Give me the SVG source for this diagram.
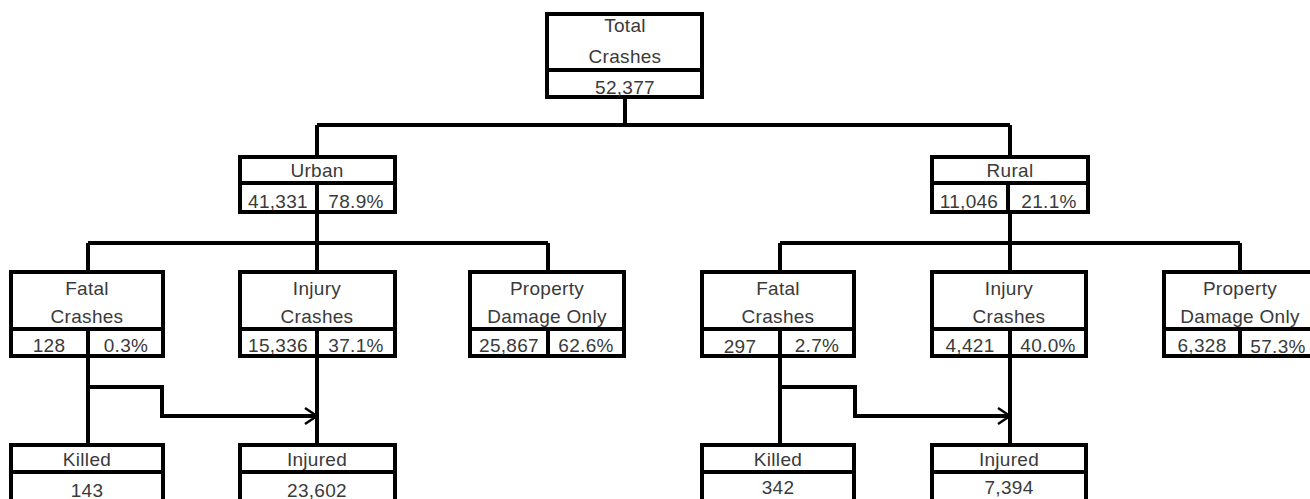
<svg xmlns="http://www.w3.org/2000/svg" width="1310" height="499" viewBox="0 0 1310 499">
<defs>
<style>
.box{fill:#fff;stroke:#000;stroke-width:4}
.ln{fill:none;stroke:#000;stroke-width:4}
.t{font-family:"Liberation Sans",Arial,sans-serif;font-size:19px;fill:#3a3a3a;text-anchor:middle;letter-spacing:0.3px}
</style>
<marker id="chev" viewBox="0 0 14 20" refX="13" refY="10" markerWidth="14" markerHeight="20" markerUnits="userSpaceOnUse" orient="auto">
<path d="M1,2 L13,10 L1,18" fill="none" stroke="#000" stroke-width="2.5"/>
</marker>
</defs>
<rect width="1310" height="499" fill="#fff"/>
<g id="connectors">
<path class="ln" d="M625,98 V125 M317,125 H1010 M317,125 V157 M1010,125 V157"/>
<path class="ln" d="M317,212 V243 M88,243 H548 M88,243 V272 M317,243 V272 M548,243 V272"/>
<path class="ln" d="M1010,212 V243 M780,243 H1240 M780,243 V272 M1010,243 V272 M1240,243 V272"/>
<path class="ln" d="M88,356 V445 M317,356 V445 M780,356 V445 M1010,356 V445"/>
<path class="ln" d="M88,387 H162 V416 H317" marker-end="url(#chev)"/>
<path class="ln" d="M780,387 H855 V416 H1010" marker-end="url(#chev)"/>
</g>
<g id="total">
<rect class="box" x="547" y="14" width="155" height="83"/>
<line class="ln" x1="547" y1="70" x2="702" y2="70"/>
<text class="t" x="625" y="32">Total</text>
<text class="t" x="625" y="63">Crashes</text>
<text class="t" x="625" y="94">52,377</text>
</g>
<g id="urban">
<rect class="box" x="240" y="157" width="155" height="55"/>
<path class="ln" d="M240,183 H395 M317,183 V212"/>
<text class="t" x="317" y="177">Urban</text>
<text class="t" x="278" y="208">41,331</text>
<text class="t" x="356" y="208">78.9%</text>
</g>
<g id="rural">
<rect class="box" x="932" y="157" width="156" height="55"/>
<path class="ln" d="M932,183 H1088 M1008,183 V212"/>
<text class="t" x="1010" y="177">Rural</text>
<text class="t" x="969" y="208">11,046</text>
<text class="t" x="1049" y="208">21.1%</text>
</g>
<g id="u-fatal">
<rect class="box" x="11" y="272" width="152" height="84"/>
<path class="ln" d="M11,329 H163 M88,329 V356"/>
<text class="t" x="87" y="295">Fatal</text>
<text class="t" x="87" y="323">Crashes</text>
<text class="t" x="49" y="352">128</text>
<text class="t" x="126" y="352">0.3%</text>
</g>
<g id="u-injury">
<rect class="box" x="240" y="272" width="155" height="84"/>
<path class="ln" d="M240,329 H395 M317,329 V356"/>
<text class="t" x="317" y="295">Injury</text>
<text class="t" x="317" y="323">Crashes</text>
<text class="t" x="278" y="352">15,336</text>
<text class="t" x="356" y="352">37.1%</text>
</g>
<g id="u-property">
<rect class="box" x="470" y="272" width="154" height="84"/>
<path class="ln" d="M470,329 H624 M548,329 V356"/>
<text class="t" x="547" y="295">Property</text>
<text class="t" x="547" y="323">Damage Only</text>
<text class="t" x="509" y="352">25,867</text>
<text class="t" x="586" y="352">62.6%</text>
</g>
<g id="r-fatal">
<rect class="box" x="702" y="272" width="152" height="84"/>
<path class="ln" d="M702,329 H854 M780,329 V356"/>
<text class="t" x="778" y="295">Fatal</text>
<text class="t" x="778" y="323">Crashes</text>
<text class="t" x="740" y="353">297</text>
<text class="t" x="817" y="352">2.7%</text>
</g>
<g id="r-injury">
<rect class="box" x="932" y="272" width="154" height="84"/>
<path class="ln" d="M932,329 H1086 M1010,329 V356"/>
<text class="t" x="1009" y="295">Injury</text>
<text class="t" x="1009" y="323">Crashes</text>
<text class="t" x="970" y="352">4,421</text>
<text class="t" x="1048" y="352">40.0%</text>
</g>
<g id="r-property">
<rect class="box" x="1164" y="272" width="160" height="84"/>
<path class="ln" d="M1164,329 H1324 M1240,329 V356"/>
<text class="t" x="1240" y="295">Property</text>
<text class="t" x="1240" y="323">Damage Only</text>
<text class="t" x="1202" y="352">6,328</text>
<text class="t" x="1278" y="353">57.3%</text>
</g>
<g id="u-killed">
<rect class="box" x="11" y="445" width="152" height="70"/>
<line class="ln" x1="11" y1="472" x2="163" y2="472"/>
<text class="t" x="87" y="466">Killed</text>
<text class="t" x="87" y="497">143</text>
</g>
<g id="u-injured">
<rect class="box" x="240" y="445" width="155" height="70"/>
<line class="ln" x1="240" y1="472" x2="395" y2="472"/>
<text class="t" x="317" y="466">Injured</text>
<text class="t" x="317" y="497">23,602</text>
</g>
<g id="r-killed">
<rect class="box" x="702" y="445" width="152" height="70"/>
<line class="ln" x1="702" y1="472" x2="854" y2="472"/>
<text class="t" x="778" y="466">Killed</text>
<text class="t" x="778" y="494">342</text>
</g>
<g id="r-injured">
<rect class="box" x="932" y="445" width="154" height="70"/>
<line class="ln" x1="932" y1="472" x2="1086" y2="472"/>
<text class="t" x="1009" y="466">Injured</text>
<text class="t" x="1009" y="494">7,394</text>
</g>
</svg>
